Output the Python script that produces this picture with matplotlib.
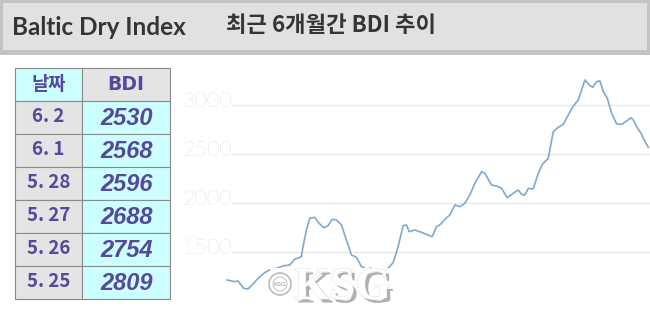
import matplotlib
matplotlib.use("Agg")
import matplotlib.pyplot as plt
from matplotlib.patches import Rectangle, Circle
import matplotlib.patheffects as pe
import matplotlib.transforms as mtransforms

# ---------------- data ----------------
title_left = "Baltic Dry Index"
title_right = "최근 6개월간 BDI 추이"

table_header = ["날짜", "BDI"]
table_dates = ["6. 2", "6. 1", "5. 28", "5. 27", "5. 26", "5. 25"]
table_bdi = ["2530", "2568", "2596", "2688", "2754", "2809"]

# approximate trading-day offsets over the last ~6 months
days = [0, 2.3, 3.3, 5.0, 6.3, 7.8, 9.3, 11.3, 12.8, 14.8, 16.8, 18.8, 20.3, 22.3,
        22.6, 23.8, 24.8, 26.3, 27.6, 29.0, 30.3, 31.5, 32.8, 34.3, 35.8, 37.3,
        38.8, 40.3, 41.8, 43.3, 44.8, 46.8, 48.3, 49.8, 51.3, 52.8, 53.8, 54.6,
        56.3, 58.3, 60.3, 61.5, 62.8, 64.0, 65.3, 66.8, 68.3, 69.8, 71.3, 72.8,
        74.3, 76.3, 77.3, 79.3, 80.8, 82.3, 84.0, 85.8, 87.3, 88.3, 89.3, 90.3,
        91.8, 93.3, 94.6, 96.3, 97.8, 99.3, 100.8, 102.3, 103.8, 105.3, 106.3,
        107.3, 108.6, 109.6, 110.8, 111.8, 112.8, 114.0, 115.3, 116.8, 118.3,
        119.8, 121.1, 121.8, 122.8, 124.1, 125.3, 126.3]
bdi = [1218, 1201, 1208, 1133, 1127, 1177, 1235, 1293, 1320, 1337, 1361, 1371, 1429,
       1456, 1524, 1727, 1846, 1856, 1795, 1751, 1771, 1836, 1829, 1778, 1625, 1473,
       1449, 1354, 1330, 1337, 1313, 1313, 1337, 1395, 1558, 1771, 1778, 1710, 1727,
       1703, 1676, 1659, 1761, 1785, 1836, 1880, 1982, 1965, 1999, 2084, 2202, 2321,
       2304, 2185, 2175, 2151, 2056, 2101, 2135, 2090, 2084, 2151, 2145, 2304, 2399,
       2457, 2728, 2773, 2803, 2898, 2990, 3051, 3153, 3255, 3204, 3180, 3238, 3245,
       3136, 3068, 2915, 2807, 2803, 2837, 2871, 2847, 2779, 2712, 2627, 2569]
yticks = [1500, 2000, 2500, 3000]

# ---------------- figure ----------------
W, H = 650, 309
fig = plt.figure(figsize=(W / 100, H / 100), dpi=100)
fig.patch.set_facecolor("white")

# overlay axes in pixel coordinates
bg = fig.add_axes([0, 0, 1, 1])
bg.set_xlim(0, W)
bg.set_ylim(H, 0)
bg.axis("off")

# header band
bg.add_patch(Rectangle((0, 0), W, 55, facecolor="#c3c3c3", edgecolor="none", zorder=0))
bg.add_patch(Rectangle((3, 3), W - 6, 47, facecolor="#e1e1e1", edgecolor="none", zorder=1))
bg.text(12, 27.5, title_left, fontsize=17.5, fontweight="bold", color="#353535",
        family=["Lato", "DejaVu Sans"], ha="left", va="center", zorder=2)
bg.text(331, 26, title_right, fontsize=16, fontweight="bold", color="#353535",
        family=["Noto Sans CJK KR", "DejaVu Sans"], ha="center", va="center", zorder=2)

# table
purple = "#56489a"
cyan = "#ccffff"
gray = "#e4e4e4"
border = "#8a8a8a"
x0, x1, x2 = 15, 82, 170
top, rh = 68, 33
cells = [(table_header[0], table_header[1], cyan, gray, True)] + \
        [(d, v, gray, cyan, False) for d, v in zip(table_dates, table_bdi)]
for i, (d, v, c1, c2, is_head) in enumerate(cells):
    y = top + i * rh
    bg.add_patch(Rectangle((x0, y), x1 - x0, rh, facecolor=c1, edgecolor=border, lw=0.8, zorder=3))
    bg.add_patch(Rectangle((x1, y), x2 - x1, rh, facecolor=c2, edgecolor=border, lw=0.8, zorder=3))
    yc = y + rh / 2
    if is_head:
        bg.text((x0 + x1) / 2, yc, d, fontsize=13.5, fontweight="bold", color=purple,
                family=["Noto Sans CJK KR", "DejaVu Sans"], ha="center", va="center", zorder=4)
        bg.text((x1 + x2) / 2, yc, v, fontsize=13.5, fontweight="heavy", color=purple,
                family=["DejaVu Sans"], ha="center", va="center", zorder=4)
    else:
        bg.text((x0 + x1) / 2, yc - 1, d, fontsize=13.5, fontweight="bold", color=purple,
                family=["Noto Sans CJK KR", "DejaVu Sans"], ha="center", va="center", zorder=4)
        bg.text((x1 + x2) / 2 + 1, yc + 1, v, fontsize=17, fontweight="bold", style="italic",
                color=purple, family=["Liberation Sans", "DejaVu Sans"],
                ha="center", va="center", zorder=4)

# chart axes
ax_l, ax_r, ax_t, ax_b = 227, 650, 62, 305
ax = fig.add_axes([ax_l / W, (H - ax_b) / H, (ax_r - ax_l) / W, (ax_b - ax_t) / H])
ax.set_facecolor("none")
px_per_unit = (252.3 - 105) / 1500.0
ax.set_ylim(3000 - (ax_b - 105) / px_per_unit, 3000 + (105 - ax_t) / px_per_unit)
ax.set_xlim(0, (ax_r - ax_l) / 3.336)
for s in ax.spines.values():
    s.set_visible(False)
ax.set_xticks([])
ax.set_yticks([])
for v in yticks:
    ax.axhline(v, xmin=5 / (ax_r - ax_l), xmax=1, color="#e6e6e6", lw=0.9, zorder=1)
    off = mtransforms.ScaledTranslation(5 / 100, 4 / 100, fig.dpi_scale_trans)
    ax.text(0, v, f"{v}", transform=ax.get_yaxis_transform() + off,
            fontsize=15.5, color="#c2c2c2", ha="right", va="center",
            family=["Lato", "DejaVu Sans"], fontweight="light")
ax.plot(days, bdi, color="#7ea9cf", lw=1.2, zorder=3, clip_on=False, solid_joinstyle="round")

# watermark (drawn above the chart)
wm = fig.add_axes([0, 0, 1, 1])
wm.set_xlim(0, W)
wm.set_ylim(H, 0)
wm.axis("off")
wm.patch.set_alpha(0)
wm.add_patch(Rectangle((270, 268), 122, 33, facecolor="white", edgecolor="none", alpha=0.9, zorder=1))
wm.add_patch(Circle((280, 284), 11, facecolor="white", edgecolor="#b0b0b0", lw=1.0, zorder=2))
wm.add_patch(Circle((280, 284), 7, facecolor="none", edgecolor="#c0c0c0", lw=0.7, zorder=2))
wm.text(280, 284, "KSG", fontsize=4.5, color="#999999", ha="center", va="center",
        family=["DejaVu Sans"], zorder=3)
wm.text(294, 299, "KSG", fontsize=33, fontweight="bold", color="white",
        family=["Liberation Serif", "DejaVu Serif"], ha="left", va="baseline", zorder=4,
        path_effects=[pe.withSimplePatchShadow(offset=(2.5, -2.5), shadow_rgbFace="#8f8f8f", alpha=0.7),
                      pe.withStroke(linewidth=0.6, foreground="#dddddd")])

fig.savefig("out.png", dpi=100, facecolor=fig.get_facecolor())
